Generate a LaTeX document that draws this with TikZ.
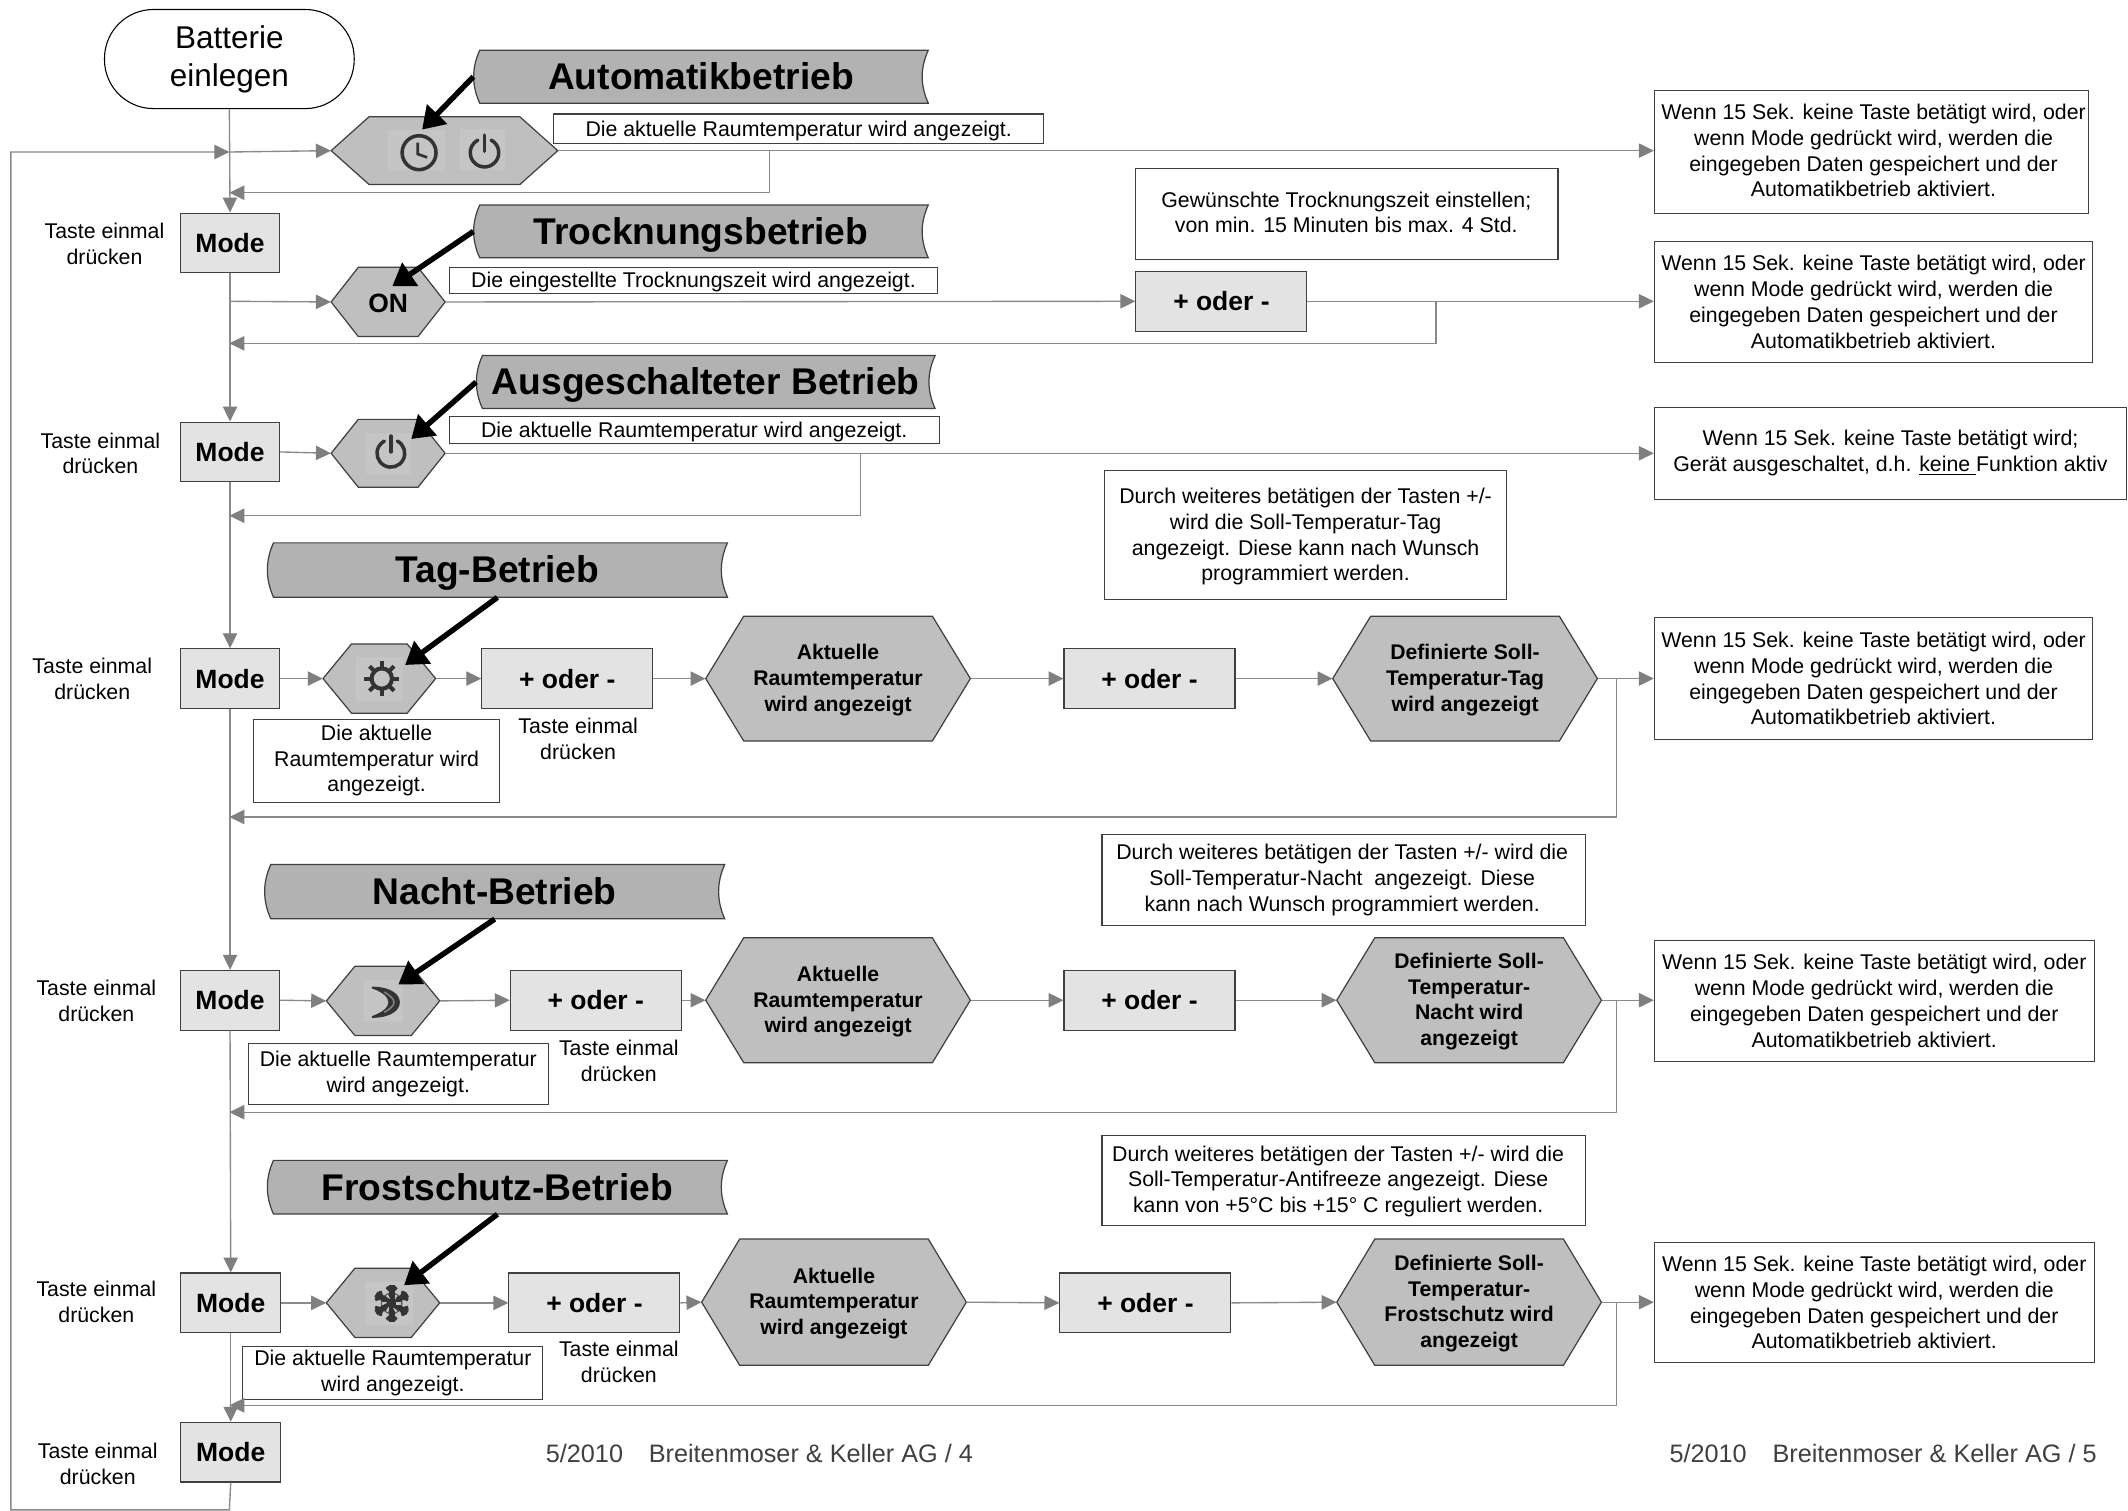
\documentclass[tikz,border=0pt]{standalone}
\usepackage{fontspec}
\setmainfont{Liberation Sans}
\usetikzlibrary{arrows.meta,calc}
\definecolor{hexfill}{HTML}{BFBFBF}
\definecolor{banfill}{HTML}{B2B2B2}
\definecolor{modefill}{HTML}{E3E3E3}
\definecolor{edgedark}{HTML}{404040}
\definecolor{linegray}{HTML}{8A8A8A}
\definecolor{headgray}{HTML}{7F7F7F}
\definecolor{iconbg}{HTML}{C5C5C5}
\definecolor{icondark}{HTML}{333333}
\definecolor{foot}{HTML}{404040}
\tikzset{
  txt/.style={font=\fontsize{15.7}{19}\selectfont,align=center,inner sep=0pt},
  wbox/.style={txt,draw=edgedark,fill=white,line width=.8pt},
  oneline/.style={wbox,text height=14.7pt,text depth=3.5pt},
  keybox/.style={draw=edgedark,fill=modefill,line width=.8pt,inner sep=0pt,align=center,font=\fontsize{19.5}{23}\selectfont\bfseries},
  hexshape/.style={draw=edgedark,fill=hexfill,line width=.9pt,line join=miter},
  hextext/.style={inner sep=0pt,align=center,font=\fontsize{15.6}{19}\selectfont\bfseries},
  banshape/.style={draw=edgedark,fill=banfill,line width=.9pt},
  bantext/.style={inner sep=0pt,text height=25pt,text depth=6pt,font=\fontsize{27.4}{32}\selectfont\bfseries},
  flow/.style={draw=linegray,line width=1pt},
  flowa/.style={flow,-{Triangle[length=11pt,width=10.5pt,color=headgray]}},
  fatarrow/.style={draw=black,line width=4pt,-{Triangle[length=16pt,width=20pt]}},
  startshape/.style={draw=black,fill=white,line width=.8pt,rounded corners=36pt,inner sep=0pt,align=center,font=\fontsize{23.2}{28}\selectfont},
  footer/.style={inner sep=0pt,text=foot,font=\fontsize{18.6}{22}\selectfont},
  iconline/.style={draw=icondark,line width=2.6pt,line cap=round},
}
% style, name, x1, y1, x2, y2, text
\newcommand{\boxn}[7]{\node[#1,minimum width={#5-#3},minimum height={#6-#4}] (#2) at ({(#3+#5)/2},{(#4+#6)/2}) {#7};}
% name, x1, y1, x2, y2, text centre x, text centre y, text
\newcommand{\boxt}[8]{\node[wbox,minimum width={#4-#2},minimum height={#5-#3}] (#1) at ({(#2+#4)/2},{(#3+#5)/2}) {};
  \node[txt] (#1t) at (#6,#7) {#8};}
% name, x1, y1, x2, y2, inset, text
\newcommand{\hexn}[7]{%
  \path[hexshape] (#2+#6,#3) -- (#4-#6,#3) -- (#4,{(#3+#5)/2}) -- (#4-#6,#5) -- (#2+#6,#5) -- (#2,{(#3+#5)/2}) -- cycle;
  \node[inner sep=0pt,minimum width={#4-#2},minimum height={#5-#3}] (#1) at ({(#2+#4)/2},{(#3+#5)/2}) {};
  \node[hextext] (#1t) at ({(#2+#4)/2},{(#3+#5)/2+1}) {#7};}
% name, x1, y1, x2, y2, text
\newcommand{\bann}[6]{%
  \path[banshape] (#2+4.5,#3) -- (#4,#3) .. controls (#4-6,{#3+(#5-#3)/3}) and (#4-6,{#3+2*(#5-#3)/3}) .. (#4,#5) -- (#2+4.5,#5) .. controls (#2-1.5,{#3+2*(#5-#3)/3}) and (#2-1.5,{#3+(#5-#3)/3}) .. cycle;
  \node[bantext,minimum width={#4-#2},minimum height={#5-#3}] (#1) at ({(#2+#4)/2},{(#3+#5)/2}) {#6};}
% icon background: x1,y1,x2,y2
\newcommand{\ibg}[4]{\fill[iconbg] (#1,#2) rectangle (#3,#4);}
\newcommand{\ipower}[3]{\begin{scope}[shift={(#1,#2)},x=1pt,y=1pt]
  \draw[iconline] (62:#3) arc (62:-242:#3);
  \draw[iconline] (0,1) -- (0,#3+2.5);
\end{scope}}
\newcommand{\iclock}[2]{\begin{scope}[shift={(#1,#2)},x=1pt,y=1pt]
  \draw[iconline] (0,0) circle (12.5);
  \draw[iconline,line width=2pt,line cap=butt] (-1,7.5) -- (-1,-1) -- (6,-3.5);
\end{scope}}
\newcommand{\isun}[2]{\begin{scope}[shift={(#1,#2)},x=1pt,y=1pt]
  \draw[iconline,line width=3pt] (0,0) circle (7.5);
  \foreach \a in {0,45,...,315}{\draw[iconline,line width=3pt,line cap=butt] (\a:8) -- (\a:12.8);}
\end{scope}}
\newcommand{\imoon}[2]{\begin{scope}[shift={(#1,#2)},x=1pt,y=1pt]
  \filldraw[fill=icondark,draw=icondark,line width=1.4pt,line join=round] (-7,10.8) .. controls (7,10.5) and (12.4,5) .. (12.4,0) .. controls (12.4,-5) and (7,-10.5) .. (-7,-10.8) .. controls (1,-8) and (5.4,-4) .. (5.4,0) .. controls (5.4,4) and (1,8) .. cycle;
  \draw[draw=gray,line width=1.2pt] (1.5,7.5) .. controls (6,5) and (8.8,2.5) .. (8.8,0) .. controls (8.8,-2.5) and (6,-5) .. (1.5,-7.5);
\end{scope}}
\newcommand{\isnow}[2]{\begin{scope}[shift={(#1,#2)},x=1pt,y=1pt]
  \fill[icondark!85] (0,0) circle (8);
  \foreach \a in {30,90,...,330}{
    \draw[icondark,line width=4.2pt] (0,0) -- (\a:13.5);
    \draw[icondark,line width=2.6pt] (\a:8.5) -- ($(\a:8.5)+(\a+45:5)$);
    \draw[icondark,line width=2.6pt] (\a:8.5) -- ($(\a:8.5)+(\a-45:5)$);
    \draw[iconbg,line width=1.6pt] ({\a+30}:3.5) -- ({\a+30}:7);
  }
\end{scope}}
\begin{document}
\begin{tikzpicture}[x=1pt,y=-1pt]
\useasboundingbox (0,0) rectangle (1568,1113.3);
\fill[white] (0,0) rectangle (1568,1113.3);

% ---- start
\boxn{startshape}{start}{77}{7}{261}{80}{Batterie\\einlegen}

% ---- mode keys
\boxn{keybox}{m1}{133}{157}{206}{201}{Mode}
\boxn{keybox}{m2}{133}{311}{206}{355}{Mode}
\boxn{keybox}{m3}{133}{478}{206}{522}{Mode}
\boxn{keybox}{m4}{133}{715}{206}{759}{Mode}
\boxn{keybox}{m5}{133}{938}{207}{982}{Mode}
\boxn{keybox}{m6}{133}{1048}{207}{1092}{Mode}

\node[txt] (t1) at (77,179.5) {Taste einmal\\drücken};
\node[txt] (t2) at (74,334) {Taste einmal\\drücken};
\node[txt] (t3) at (68,500) {Taste einmal\\drücken};
\node[txt] (t4) at (71,737.5) {Taste einmal\\drücken};
\node[txt] (t5) at (71,959.5) {Taste einmal\\drücken};
\node[txt] (t6) at (72,1078.5) {Taste einmal\\drücken};

% ---- banners
\bann{b1}{349}{37}{684}{76}{Automatikbetrieb}
\bann{b2}{349}{151}{684}{190}{Trocknungsbetrieb}
\bann{b3}{351}{262}{689}{301}{Ausgeschalteter Betrieb}
\bann{b4}{197}{400}{536}{440}{Tag-Betrieb}
\bann{b5}{195}{637}{534}{677}{Nacht-Betrieb}
\bann{b6}{197}{855}{536}{894.5}{Frostschutz-Betrieb}

% ---- small state hexagons
\hexn{h1}{244}{86}{411}{136}{28}{}
\hexn{h2}{244}{197}{328}{248}{20}{\fontsize{19.5}{23}\selectfont ON}
\hexn{h3}{244}{309}{328}{359}{20}{}
\hexn{h4}{238}{474.5}{321}{525.5}{21}{}
\hexn{h5}{240.5}{712}{324}{763}{21}{}
\hexn{h6}{240.5}{934.5}{324}{985.5}{21}{}

% ---- icons
\ibg{286}{96}{328}{126}\iclock{308.8}{112.5}
\ibg{339}{95}{372}{125}\ipower{357}{112.5}{10.5}
\ibg{270}{319}{303}{349}\ipower{288}{334}{10.2}
\ibg{262.4}{484}{296.7}{516.6}\isun{281.3}{500}
\ibg{268}{722}{297}{753}\imoon{281.5}{738.5}
\ibg{269}{944.5}{304}{976.5}\isnow{288.6}{960.4}

% ---- large hexagons
\hexn{a4}{520}{454}{715}{546}{28}{Aktuelle\\Raumtemperatur\\wird angezeigt}
\hexn{d4}{982}{454}{1177}{546}{28}{Definierte Soll-\\Temperatur-Tag\\wird angezeigt}
\hexn{a5}{520}{691}{715}{783}{28}{Aktuelle\\Raumtemperatur\\wird angezeigt}
\hexn{d5}{985}{691}{1180}{783}{28}{Definierte Soll-\\Temperatur-\\Nacht wird\\angezeigt}
\hexn{a6}{517}{913}{712}{1006}{28}{Aktuelle\\Raumtemperatur\\wird angezeigt}
\hexn{d6}{985}{913}{1180}{1006}{28}{Definierte Soll-\\Temperatur-\\Frostschutz wird\\angezeigt}

% ---- plus/minus keys
\boxn{keybox}{p2}{837}{200}{963}{244}{+ oder -}
\boxn{keybox}{p4a}{355}{478}{481}{522}{+ oder -}
\boxn{keybox}{p4b}{784}{478}{910}{522}{+ oder -}
\boxn{keybox}{p5a}{376}{715}{502}{759}{+ oder -}
\boxn{keybox}{p5b}{784}{715}{910}{759}{+ oder -}
\boxn{keybox}{p6a}{375}{938}{501}{982}{+ oder -}
\boxn{keybox}{p6b}{781}{938}{907}{982}{+ oder -}

\node[txt] (t7) at (426,544.5) {Taste einmal\\drücken};
\node[txt] (t8) at (456,781.5) {Taste einmal\\drücken};
\node[txt] (t9) at (456,1003.5) {Taste einmal\\drücken};

% ---- labels
\boxn{oneline}{l1}{408}{84}{769}{106}{Die aktuelle Raumtemperatur wird angezeigt.}
\boxn{oneline}{l2}{331}{197}{691}{216}{Die eingestellte Trocknungszeit wird angezeigt.}
\boxn{oneline}{l3}{331}{307}{692}{327}{Die aktuelle Raumtemperatur wird angezeigt.}
\boxn{wbox}{l4}{187}{530}{368}{591}{Die aktuelle\\Raumtemperatur wird\\angezeigt.}
\boxn{wbox}{l5}{183}{769}{404}{814}{Die aktuelle Raumtemperatur\\wird angezeigt.}
\boxn{wbox}{l6}{179}{992}{400}{1031}{Die aktuelle Raumtemperatur\\wird angezeigt.}

\boxt{n2}{837}{124}{1148}{191}{992}{156.5}{Gewünschte Trocknungszeit einstellen;\\von min. 15 Minuten bis max. 4 Std.}
\boxt{n4}{814}{347}{1110}{442}{962}{395.5}{Durch weiteres betätigen der Tasten +/-\\wird die Soll-Temperatur-Tag\\angezeigt. Diese kann nach Wunsch\\programmiert werden.}
\boxt{n5}{812}{615}{1168}{682}{989}{648.5}{Durch weiteres betätigen der Tasten +/- wird die\\Soll-Temperatur-Nacht\ \ angezeigt. Diese\\kann nach Wunsch programmiert werden.}
\boxt{n6}{812}{837}{1168}{903}{986}{870.5}{Durch weiteres betätigen der Tasten +/- wird die\\Soll-Temperatur-Antifreeze angezeigt. Diese\\kann von +5°C bis +15° C reguliert werden.}

\boxt{r1}{1219}{67}{1539}{157}{1380.5}{111}{Wenn 15 Sek. keine Taste betätigt wird, oder\\wenn Mode gedrückt wird, werden die\\eingegeben Daten gespeichert und der\\Automatikbetrieb aktiviert.}
\boxn{wbox}{r2}{1219}{178}{1542}{267}{Wenn 15 Sek. keine Taste betätigt wird, oder\\wenn Mode gedrückt wird, werden die\\eingegeben Daten gespeichert und der\\Automatikbetrieb aktiviert.}
\boxt{r3}{1219}{300}{1567}{368}{1393}{334}{Wenn 15 Sek. keine Taste betätigt wird;\\Gerät ausgeschaltet, d.h. \underline{keine\ }Funktion aktiv}
\boxn{wbox}{r4}{1219}{455}{1542}{545}{Wenn 15 Sek. keine Taste betätigt wird, oder\\wenn Mode gedrückt wird, werden die\\eingegeben Daten gespeichert und der\\Automatikbetrieb aktiviert.}
\boxn{wbox}{r5}{1219}{693}{1543}{782}{Wenn 15 Sek. keine Taste betätigt wird, oder\\wenn Mode gedrückt wird, werden die\\eingegeben Daten gespeichert und der\\Automatikbetrieb aktiviert.}
\boxn{wbox}{r6}{1219}{915.5}{1543}{1004}{Wenn 15 Sek. keine Taste betätigt wird, oder\\wenn Mode gedrückt wird, werden die\\eingegeben Daten gespeichert und der\\Automatikbetrieb aktiviert.}

% ---- footers
\node[footer,anchor=west] (f1) at (402,1071) {5/2010\hspace{19pt}Breitenmoser \& Keller AG / 4};
\node[footer,anchor=west] (f2) at (1230,1071) {5/2010\hspace{19pt}Breitenmoser \& Keller AG / 5};

% ---- junction coordinates
\coordinate (jt) at (169,112);
\coordinate (j1) at (567,111);  \coordinate (k1) at (169,142);
\coordinate (j2) at (1058,222); \coordinate (k2) at (169,253);
\coordinate (j3) at (634,334);  \coordinate (k3) at (169,380);
\coordinate (j4) at (1191,500); \coordinate (k4) at (169,602);
\coordinate (j5) at (1191,737); \coordinate (k5) at (169,819.5);
\coordinate (j6) at (1191,960); \coordinate (k6) at (169,1035.5);
\coordinate (s2) at (169,222);
\coordinate (lpb) at (169,1112.5);
\coordinate (lpl) at (8,1112.5);
\coordinate (lpt) at (8,112);

% ---- main column
\draw[flowa] (start.south) -- (m1.north);
\draw[flowa] (m1.south) -- (m2.north);
\draw[flowa] (m2.south) -- (m3.north);
\draw[flowa] (m3.south) -- (m4.north);
\draw[flowa] (m4.south) -- (m5.north);
\draw[flowa] (m5.south) -- (m6.north);
\draw[flowa] (m6.south) -- (lpb) -- (lpl) -- (lpt) -- (jt);

% ---- row 1
\draw[flowa] (jt) -- (h1.west);
\draw[flowa] (h1.east) -- (h1.east -| r1.west);
\draw[flowa] (j1) |- (k1);
% ---- row 2
\draw[flowa] (s2) -- (h2.west);
\draw[flowa] (h2.east) -- (p2.west);
\draw[flowa] (p2.east) -- (p2.east -| r2.west);
\draw[flowa] (j2) |- (k2);
% ---- row 3
\draw[flowa] (m2.east) -- (h3.west);
\draw[flowa] (h3.east) -- (r3.west);
\draw[flowa] (j3) |- (k3);
% ---- row 4
\draw[flowa] (m3.east) -- (h4.west);
\draw[flowa] (h4.east) -- (p4a.west);
\draw[flowa] (p4a.east) -- (a4.west);
\draw[flowa] (a4.east) -- (p4b.west);
\draw[flowa] (p4b.east) -- (d4.west);
\draw[flowa] (d4.east) -- (r4.west);
\draw[flowa] (j4) |- (k4);
% ---- row 5
\draw[flowa] (m4.east) -- (h5.west);
\draw[flowa] (h5.east) -- (p5a.west);
\draw[flowa] (p5a.east) -- (a5.west);
\draw[flowa] (a5.east) -- (p5b.west);
\draw[flowa] (p5b.east) -- (d5.west);
\draw[flowa] (d5.east) -- (d5.east -| r5.west);
\draw[flowa] (j5) |- (k5);
% ---- row 6
\draw[flowa] (m5.east) -- (h6.west);
\draw[flowa] (h6.east) -- (p6a.west);
\draw[flowa] (p6a.east) -- (a6.west);
\draw[flowa] (a6.east) -- (p6b.west);
\draw[flowa] (p6b.east) -- (d6.west);
\draw[flowa] (d6.east) -- (d6.east -| r6.west);
\draw[flowa] (j6) |- (k6);

% ---- fat pointers
\coordinate (q1) at (311,95.5);
\coordinate (q2) at (289,211);
\coordinate (q3) at (303,323.5);
\coordinate (q4) at (298.5,490);
\coordinate (q5) at (293.5,725.4);
\coordinate (q6) at (297.7,947);
\draw[fatarrow] (b1.west) -- (q1);
\draw[fatarrow] (b2.west) -- (q2);
\draw[fatarrow] (b3.west) -- (q3);
\draw[fatarrow] (b4.south) -- (q4);
\draw[fatarrow] (b5.south) -- (q5);
\draw[fatarrow] (b6.south) -- (q6);
\end{tikzpicture}
\end{document}
